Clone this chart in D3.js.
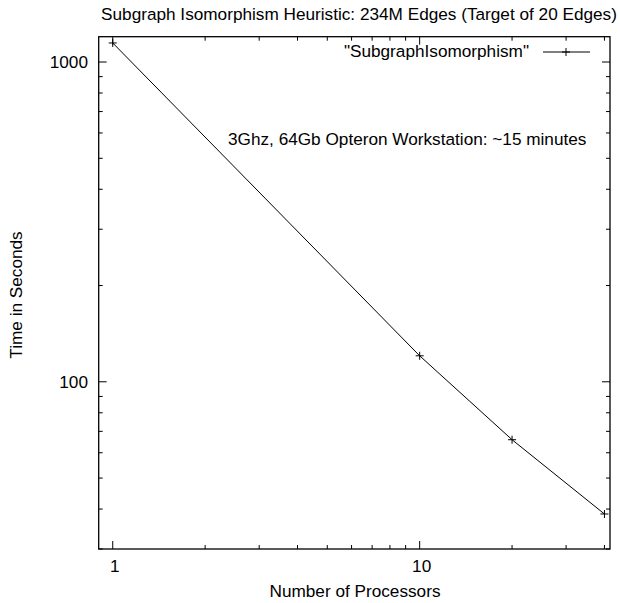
<!DOCTYPE html>
<html><head><meta charset="utf-8">
<script src="https://cdn.jsdelivr.net/npm/d3@7"></script>
<style>body{margin:0;background:#fff}text{font-family:"Liberation Sans",Arial,sans-serif;fill:#000}</style>
</head><body><svg id="c" width="620" height="603"></svg>
<script>
const processors = [1, 10, 20, 40];
const seconds = [1147, 120.6, 65.9, 38.6];
const xTickValues = [1, 10];
const yTickValues = [100, 1000];
const seriesName = '"SubgraphIsomorphism"';
const titleText = "Subgraph Isomorphism Heuristic: 234M Edges (Target of 20 Edges)";
const noteText = "3Ghz, 64Gb Opteron Workstation: ~15 minutes";

const svg = d3.select("#c");
const L = 98.7, R = 610, T = 36.7, B = 549;
const x = d3.scaleLog().domain([0.9, 41.7]).range([L, R]);
const y = d3.scaleLog().domain([30, 1200]).range([B, T]);
const fs = 17.2;

// minor ticks
const xMinor = [];
for (let d = 1; d <= 10; d *= 10) for (let k = 1; k <= 9; k++) { const v = k * d; if (v >= 0.9 && v <= 41.7) xMinor.push(v); }
const yMinor = [];
for (let d = 10; d <= 1000; d *= 10) for (let k = 1; k <= 9; k++) { const v = k * d; if (v >= 30 && v <= 1200) yMinor.push(v); }

const g = svg.append("g").attr("stroke", "#000").attr("stroke-width", 1);
xMinor.forEach(v => {
  const len = xTickValues.includes(v) ? 8 : 4;
  const px = x(v);
  g.append("line").attr("x1", px).attr("x2", px).attr("y1", B).attr("y2", B - len);
  g.append("line").attr("x1", px).attr("x2", px).attr("y1", T).attr("y2", T + len);
});
yMinor.forEach(v => {
  const len = yTickValues.includes(v) ? 8 : 4;
  const py = y(v);
  g.append("line").attr("x1", L).attr("x2", L + len).attr("y1", py).attr("y2", py);
  g.append("line").attr("x1", R).attr("x2", R - len).attr("y1", py).attr("y2", py);
});
svg.append("rect").attr("x", L).attr("y", T).attr("width", R - L).attr("height", B - T)
  .attr("fill", "none").attr("stroke", "#000").attr("stroke-width", 1.3);

xTickValues.forEach(v => svg.append("text").attr("x", x(v) + 2).attr("y", 572)
  .attr("text-anchor", "middle").attr("font-size", fs).text(d3.format("d")(v)));
yTickValues.forEach(v => svg.append("text").attr("x", 88).attr("y", y(v) + 6)
  .attr("text-anchor", "end").attr("font-size", fs).text(d3.format("d")(v)));

svg.append("text").attr("x", 359).attr("y", 20).attr("text-anchor", "middle").attr("font-size", fs).text(titleText);
svg.append("text").attr("x", 355).attr("y", 597).attr("text-anchor", "middle").attr("font-size", fs).text("Number of Processors");
svg.append("text").attr("transform", "translate(22,295) rotate(-90)").attr("text-anchor", "middle").attr("font-size", fs).text("Time in Seconds");
svg.append("text").attr("x", 228).attr("y", 145).attr("font-size", fs).text(noteText);

const pts = processors.map((p, i) => [x(p), y(seconds[i])]);
svg.append("path").attr("d", d3.line()(pts)).attr("fill", "none").attr("stroke", "#000").attr("stroke-width", 1);
const plus = (cx, cy) => svg.append("path").attr("d", `M${cx-4},${cy}H${cx+4}M${cx},${cy-4}V${cy+4}`).attr("stroke", "#000").attr("stroke-width", 1);
pts.forEach(p => plus(p[0], p[1]));

// legend
svg.append("text").attr("x", 529).attr("y", 57).attr("text-anchor", "end").attr("font-size", fs).text(seriesName);
svg.append("line").attr("x1", 543).attr("x2", 590).attr("y1", 52).attr("y2", 52).attr("stroke", "#000");
plus(566, 52);
</script></body></html>
